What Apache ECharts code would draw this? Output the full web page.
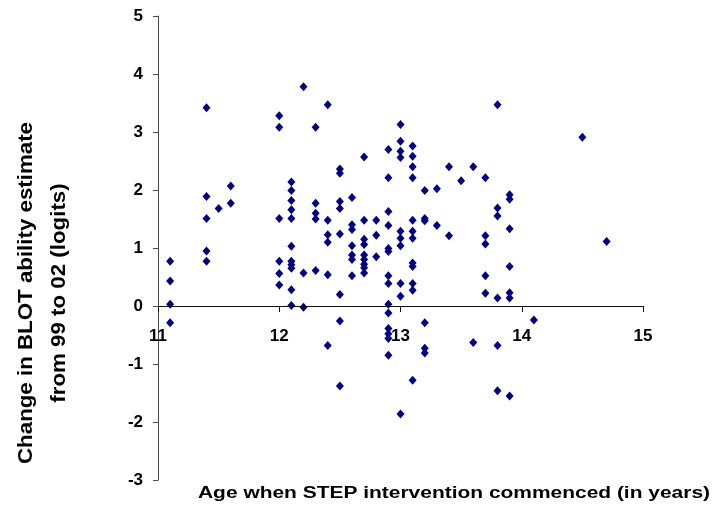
<!DOCTYPE html>
<html>
<head>
<meta charset="utf-8">
<title>BLOT change by age</title>
<script src="https://cdn.jsdelivr.net/npm/echarts@6/dist/echarts.min.js"></script>
<style>
  html, body { margin: 0; padding: 0; background: #fff; }
  #chart { width: 726px; height: 508px; }
</style>
</head>
<body>
<div id="chart"></div>
<script>
// Age (years) when the STEP intervention started, one entry per student
const ages = [
  11.1, 11.1, 11.1, 11.1,
  11.4, 11.4, 11.4, 11.4, 11.4,
  11.5,
  11.6, 11.6,
  12.0, 12.0, 12.0, 12.0, 12.0, 12.0,
  12.1, 12.1, 12.1, 12.1, 12.1, 12.1, 12.1, 12.1, 12.1, 12.1, 12.1,
  12.2, 12.2, 12.2,
  12.3, 12.3, 12.3, 12.3, 12.3,
  12.4, 12.4, 12.4, 12.4, 12.4, 12.4,
  12.5, 12.5, 12.5, 12.5, 12.5, 12.5, 12.5, 12.5,
  12.6, 12.6, 12.6, 12.6, 12.6, 12.6, 12.6,
  12.7, 12.7, 12.7, 12.7, 12.7, 12.7, 12.7, 12.7, 12.7,
  12.8, 12.8, 12.8,
  12.9, 12.9, 12.9, 12.9, 12.9, 12.9, 12.9, 12.9, 12.9, 12.9, 12.9, 12.9, 12.9, 12.9,
  13.0, 13.0, 13.0, 13.0, 13.0, 13.0, 13.0, 13.0, 13.0, 13.0,
  13.1, 13.1, 13.1, 13.1, 13.1, 13.1, 13.1, 13.1, 13.1, 13.1, 13.1, 13.1,
  13.2, 13.2, 13.2, 13.2, 13.2, 13.2,
  13.3, 13.3,
  13.4, 13.4,
  13.5,
  13.6, 13.6,
  13.7, 13.7, 13.7, 13.7, 13.7,
  13.8, 13.8, 13.8, 13.8, 13.8, 13.8,
  13.9, 13.9, 13.9, 13.9, 13.9, 13.9, 13.9,
  14.1,
  14.5,
  14.7
];

// Change in BLOT ability estimate from 99 to 02 (logits), same order as ages
const changes = [
  0.77, 0.43, 0.03, -0.29,
  3.42, 1.89, 1.51, 0.95, 0.77,
  1.68,
  2.07, 1.77,
  3.28, 3.08, 1.51, 0.77, 0.56, 0.36,
  2.14, 1.99, 1.82, 1.66, 1.51, 1.03, 0.77, 0.71, 0.65, 0.28, 0.01,
  3.78, 0.57, -0.02,
  3.08, 1.77, 1.60, 1.50, 0.61,
  3.47, 1.48, 1.23, 1.10, 0.54, -0.68,
  2.36, 2.29, 1.80, 1.68, 1.24, 0.20, -0.26, -1.38,
  1.87, 1.40, 1.32, 1.04, 0.88, 0.80, 0.52,
  2.57, 1.48, 1.15, 1.06, 0.88, 0.80, 0.72, 0.66, 0.57,
  1.48, 1.22, 0.85,
  2.70, 2.21, 1.63, 1.39, 0.99, 0.94, 0.52, 0.39, 0.03, -0.12, -0.39, -0.48, -0.56, -0.85,
  3.13, 2.84, 2.67, 2.56, 1.29, 1.17, 1.04, 0.39, 0.17, -1.86,
  2.76, 2.58, 2.40, 2.21, 1.48, 1.29, 1.17, 0.74, 0.68, 0.39, 0.27, -1.28,
  1.99, 1.51, 1.47, -0.29, -0.73, -0.81,
  2.02, 1.39,
  2.40, 1.21,
  2.16,
  2.40, -0.63,
  2.21, 1.21, 1.07, 0.52, 0.22,
  3.47, 1.69, 1.55, 0.14, -0.68, -1.46,
  1.92, 1.84, 1.33, 0.68, 0.23, 0.14, -1.55,
  -0.24,
  2.91,
  1.11
];

// Axis tick values
const xTicks = [11, 12, 13, 14, 15];
const yTicks = [-3, -2, -1, 0, 1, 2, 3, 4, 5];

const xTitle = 'Age when STEP intervention commenced (in years)';
const yTitle = ['Change in BLOT ability estimate', 'from 99 to 02 (logits)'];

const FONT = '"Liberation Sans", Arial, sans-serif';
const AXIS_COLOR = '#111111';

// Plot rectangle inside the 726x508 canvas (height 464 = 8 units of 58px)
const GRID = { left: 158, right: 83, top: 16, bottom: 28 };
const plotHeight = 508 - GRID.top - GRID.bottom;

const xMin = xTicks[0];
const xMax = xTicks[xTicks.length - 1];
const yMin = yTicks[0];
const yMax = yTicks[yTicks.length - 1];

// The x labels sit under the zero line: lift them from the bottom edge
// by the share of the y range that lies below zero.
const xLabelOffset = -plotHeight * (0 - yMin) / (yMax - yMin);

// Width of a string in a given font, used to stretch the axis titles
function textWidth(str, font) {
  const ctx = document.createElement('canvas').getContext('2d');
  ctx.font = font;
  return ctx.measureText(str).width;
}

const xTitleSize = 16;
const xTitleScale = 512 / textWidth(xTitle, 'bold ' + xTitleSize + 'px ' + FONT);
const yTitleSize = 20;
const yTitleScale = 342 / textWidth(yTitle[0], 'bold ' + yTitleSize + 'px ' + FONT);

const points = ages.map((a, i) => [a, changes[i]]);

const tickLabelStyle = {
  color: '#000',
  fontSize: 17,
  fontWeight: 'bold',
  fontFamily: FONT
};

const chart = echarts.init(document.getElementById('chart'), null, { renderer: 'canvas' });

chart.setOption({
  animation: false,
  backgroundColor: '#ffffff',
  grid: Object.assign({ containLabel: false, outerBoundsMode: 'none' }, GRID),
  xAxis: [
    {
      // line and ticks, crossing the y axis at zero
      type: 'value',
      position: 'bottom',
      min: xMin,
      max: xMax,
      interval: 1,
      splitLine: { show: false },
      axisLine: { show: true, onZero: true, lineStyle: { color: AXIS_COLOR, width: 1 } },
      axisTick: { show: true, inside: false, length: 6, lineStyle: { color: AXIS_COLOR, width: 1 } },
      axisLabel: { show: false }
    },
    {
      // tick labels just under the zero line
      type: 'value',
      position: 'bottom',
      offset: xLabelOffset,
      min: xMin,
      max: xMax,
      interval: 1,
      splitLine: { show: false },
      axisLine: { show: false, onZero: false },
      axisTick: { show: false },
      axisLabel: Object.assign({ margin: 22, showMinLabel: true, showMaxLabel: true }, tickLabelStyle)
    }
  ],
  yAxis: {
    type: 'value',
    min: yMin,
    max: yMax,
    interval: 1,
    splitLine: { show: false },
    axisLine: { show: true, onZero: false, lineStyle: { color: '#4a4a4a', width: 1 } },
    axisTick: { show: true, inside: false, length: 5, lineStyle: { color: '#4a4a4a' } },
    axisLabel: Object.assign({ margin: 15 }, tickLabelStyle)
  },
  series: [{
    type: 'scatter',
    xAxisIndex: 0,
    data: points,
    symbol: 'diamond',
    symbolSize: [8, 9],
    itemStyle: { color: '#000080', opacity: 1 },
    emphasis: { disabled: true },
    // zero line across the plot
    markLine: {
      silent: true,
      symbol: 'none',
      label: { show: false },
      lineStyle: { color: AXIS_COLOR, width: 1, type: 'solid', opacity: 1 },
      emphasis: { disabled: true },
      data: [{ yAxis: 0 }]
    }
  }],
  graphic: [
    {
      type: 'text',
      x: 454,
      y: 494,
      scaleX: xTitleScale,
      style: {
        text: xTitle,
        fontSize: xTitleSize,
        fontWeight: 'bold',
        fontFamily: FONT,
        fill: '#000',
        align: 'center',
        verticalAlign: 'middle'
      }
    },
    {
      type: 'text',
      x: 43,
      y: 293,
      rotation: Math.PI / 2,
      scaleX: yTitleScale,
      style: {
        text: yTitle.join('\n'),
        fontSize: yTitleSize,
        fontWeight: 'bold',
        fontFamily: FONT,
        lineHeight: 33,
        fill: '#000',
        align: 'center',
        verticalAlign: 'middle'
      }
    }
  ]
});
</script>
</body>
</html>
